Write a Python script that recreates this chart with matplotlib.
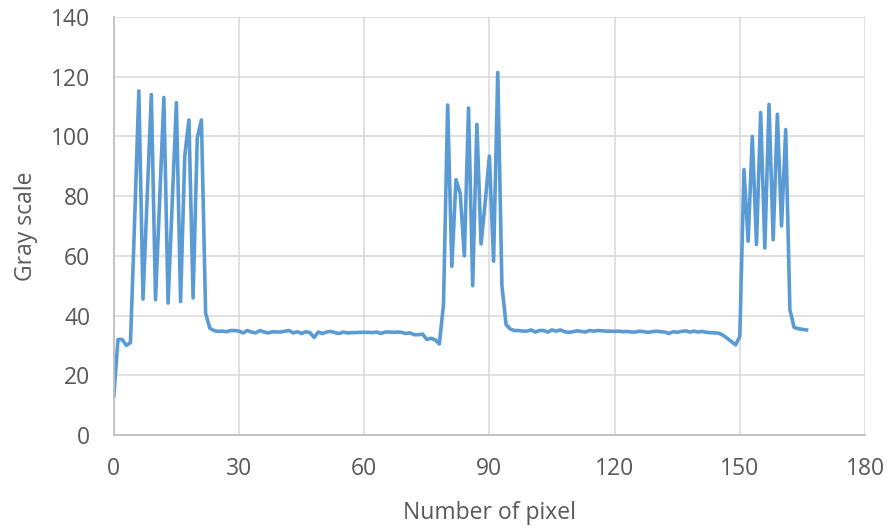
import matplotlib.pyplot as plt

gray = [13, 32, 32, 30, 31, 72, 115.2, 45.5, 80, 114, 45.3, 79, 113, 44.2, 78,
        111.3, 44.7, 93.4, 105.5, 45.9, 99.5, 105.5, 40.8, 35.8, 35, 34.7, 34.8, 34.6, 35, 35,
        34.8, 34.2, 35, 34.5, 34.2, 35, 34.5, 34.2, 34.6, 34.5, 34.5, 34.8, 35, 34.2, 34.6,
        34, 34.6, 34.3, 32.7, 34.5, 34, 34.5, 34.7, 34.3, 34, 34.5, 34.2, 34.3, 34.3, 34.4,
        34.4, 34.4, 34.3, 34.5, 34, 34.5, 34.5, 34.4, 34.5, 34.4, 34, 34.2, 33.6, 33.6, 33.8,
        32, 32.4, 31.9, 30.5, 43.6, 110.5, 56.5, 85.5, 81, 60, 109.5, 50, 104, 64, 78,
        93.4, 58.2, 121.4, 50, 37, 35.5, 35, 35, 34.8, 34.8, 35.2, 34.5, 35, 35, 34.5,
        35.2, 34.8, 35.2, 34.6, 34.4, 34.6, 34.9, 34.7, 34.5, 35, 34.8, 35, 34.9, 34.8, 34.8,
        34.7, 34.8, 34.6, 34.7, 34.5, 34.5, 34.8, 34.6, 34.4, 34.6, 34.8, 34.6, 34.5, 34, 34.6,
        34.4, 34.7, 34.9, 34.5, 34.8, 34.5, 34.7, 34.4, 34.3, 34.2, 34.1, 33.4, 32.4, 31.3, 30.2,
        33, 88.9, 64.9, 100, 63.8, 108, 62.6, 110.7, 65.4, 107.4, 70, 102.3, 42, 36.1, 35.6,
        35.4, 35.2]
pixels = list(range(len(gray)))

xticks = [0, 30, 60, 90, 120, 150, 180]
yticks = [0, 20, 40, 60, 80, 100, 120, 140]

plt.rcParams['font.family'] = ['Open Sans', 'DejaVu Sans']
text_color = '#595959'

fig = plt.figure(figsize=(8.89, 5.28), dpi=100)
ax = fig.add_axes([0.128, 0.176, 0.845, 0.792])

ax.plot(pixels, gray, color='#5B9BD5', linewidth=2.6)

ax.set_xlim(0, 180)
ax.set_ylim(0, 140)
ax.set_xticks(xticks)
ax.set_yticks(yticks)
ax.grid(True, color='#d9d9d9', linewidth=1.1)
ax.set_axisbelow(True)
ax.tick_params(length=0, labelsize=16.5, colors=text_color)
ax.tick_params(axis='y', pad=17)
ax.tick_params(axis='x', pad=16)

for s in ['top', 'right']:
    ax.spines[s].set_visible(False)
for s in ['left', 'bottom']:
    ax.spines[s].set_color('#bfbfbf')
    ax.spines[s].set_linewidth(1.3)

ax.set_xlabel('Number of pixel', fontsize=16.5, color=text_color, labelpad=14)
ax.set_ylabel('Gray scale', fontsize=16.5, color=text_color, labelpad=9)

fig.savefig('out.png', dpi=100)
